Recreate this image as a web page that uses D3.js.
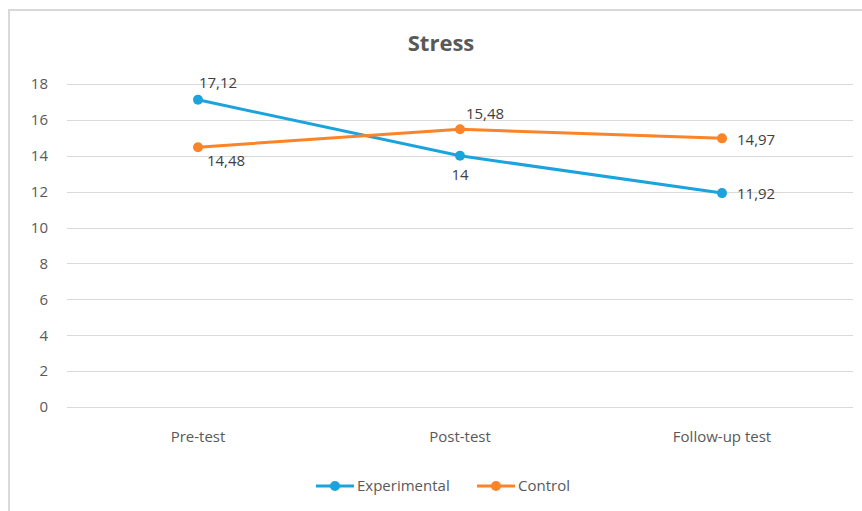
<!DOCTYPE html>
<html>
<head>
<meta charset="utf-8">
<script src="https://cdn.jsdelivr.net/npm/d3@7"></script>
<style>
  html, body { margin: 0; padding: 0; background: #fff; }
  svg { display: block; }
  text { font-family: "Open Sans", sans-serif; }
</style>
</head>
<body>
<svg id="chart" width="862" height="511"></svg>
<script>
// Chart content
const chartTitle = "Stress";
const categories = ["Pre-test", "Post-test", "Follow-up test"];
const experimental = [17.12, 14, 11.92];
const control = [14.48, 15.48, 14.97];
const yTicks = [0, 2, 4, 6, 8, 10, 12, 14, 16, 18];
const seriesNames = ["Experimental", "Control"];

// Styling and label placement
const colors = { Experimental: "#1ba3dd", Control: "#fb8428" };
const labelPlacement = {
  Experimental: [{ dx: 20, dy: -17, anchor: "middle" }, { dx: 0, dy: 19, anchor: "middle" }, { dx: 15, dy: 1, anchor: "start" }],
  Control: [{ dx: 28, dy: 14, anchor: "middle" }, { dx: 25, dy: -15, anchor: "middle" }, { dx: 15, dy: 1, anchor: "start" }]
};

const svg = d3.select("#chart");
const W = 862, H = 511;
const margin = { left: 67, right: 9, top: 84, bottom: 104 };

// Chart area frame (top and left edges visible)
svg.append("path")
  .attr("d", `M${9},${H} L${9},${10} L${W},${10}`)
  .attr("fill", "none")
  .attr("stroke", "#d9d9d9")
  .attr("stroke-width", 2);

const x = d3.scaleBand()
  .domain(categories)
  .range([margin.left, W - margin.right])
  .paddingInner(0).paddingOuter(0);

const y = d3.scaleLinear()
  .domain([0, 18])
  .range([H - margin.bottom, margin.top]);

// Gridlines
svg.append("g")
  .selectAll("line")
  .data(yTicks)
  .join("line")
  .attr("x1", margin.left)
  .attr("x2", W - margin.right)
  .attr("y1", d => Math.round(y(d)) + 0.5)
  .attr("y2", d => Math.round(y(d)) + 0.5)
  .attr("stroke", "#d9d9d9")
  .attr("stroke-width", 1);

// Y axis labels
const yAxis = d3.axisLeft(y).tickValues(yTicks).tickSize(0).tickPadding(19);
svg.append("g")
  .attr("transform", `translate(${margin.left},0)`)
  .call(yAxis)
  .call(g => g.select(".domain").remove())
  .call(g => g.selectAll("text")
    .attr("fill", "#595959")
    .style("font-size", "15px")
    .style("font-family", "\"Open Sans\", sans-serif"));

// X axis labels
const xAxis = d3.axisBottom(x).tickSize(0).tickPadding(24);
svg.append("g")
  .attr("transform", `translate(0,${y(0)})`)
  .call(xAxis)
  .call(g => g.select(".domain").remove())
  .call(g => g.selectAll("text")
    .attr("fill", "#595959")
    .style("font-size", "15px")
    .style("font-family", "\"Open Sans\", sans-serif"));

// Title
svg.append("text")
  .attr("x", 441)
  .attr("y", 51)
  .attr("text-anchor", "middle")
  .attr("fill", "#595959")
  .style("font-size", "22px")
  .style("font-weight", "bold")
  .text(chartTitle);

const series = [
  { name: "Experimental", values: experimental },
  { name: "Control", values: control }
];

const cx = c => x(c) + x.bandwidth() / 2;
const line = d3.line()
  .x((d, i) => cx(categories[i]))
  .y(d => y(d));

const fmt = v => String(v).replace(".", ",");

series.forEach(s => {
  const g = svg.append("g");
  g.append("path")
    .datum(s.values)
    .attr("d", line)
    .attr("fill", "none")
    .attr("stroke", colors[s.name])
    .attr("stroke-width", 3)
    .attr("stroke-linejoin", "round");
  g.selectAll("circle")
    .data(s.values)
    .join("circle")
    .attr("cx", (d, i) => cx(categories[i]))
    .attr("cy", d => y(d))
    .attr("r", 5)
    .attr("fill", colors[s.name]);
  g.selectAll("text.lbl")
    .data(s.values)
    .join("text")
    .attr("class", "lbl")
    .attr("x", (d, i) => cx(categories[i]) + labelPlacement[s.name][i].dx)
    .attr("y", (d, i) => y(d) + labelPlacement[s.name][i].dy)
    .attr("dy", "0.35em")
    .attr("text-anchor", (d, i) => labelPlacement[s.name][i].anchor)
    .attr("fill", "#404040")
    .style("font-size", "15px")
    .text(d => fmt(d));
});

// Legend
const legend = svg.append("g").attr("transform", `translate(0,486)`);
const legendItems = [
  { name: seriesNames[0], x0: 316 },
  { name: seriesNames[1], x0: 477 }
];
legendItems.forEach(it => {
  legend.append("line")
    .attr("x1", it.x0).attr("x2", it.x0 + 38)
    .attr("y1", 0).attr("y2", 0)
    .attr("stroke", colors[it.name]).attr("stroke-width", 3);
  legend.append("circle")
    .attr("cx", it.x0 + 19).attr("cy", 0).attr("r", 5)
    .attr("fill", colors[it.name]);
  legend.append("text")
    .attr("x", it.x0 + 41).attr("y", 0).attr("dy", "0.35em")
    .attr("fill", "#595959")
    .style("font-size", "15px")
    .text(it.name);
});
</script>
</body>
</html>
